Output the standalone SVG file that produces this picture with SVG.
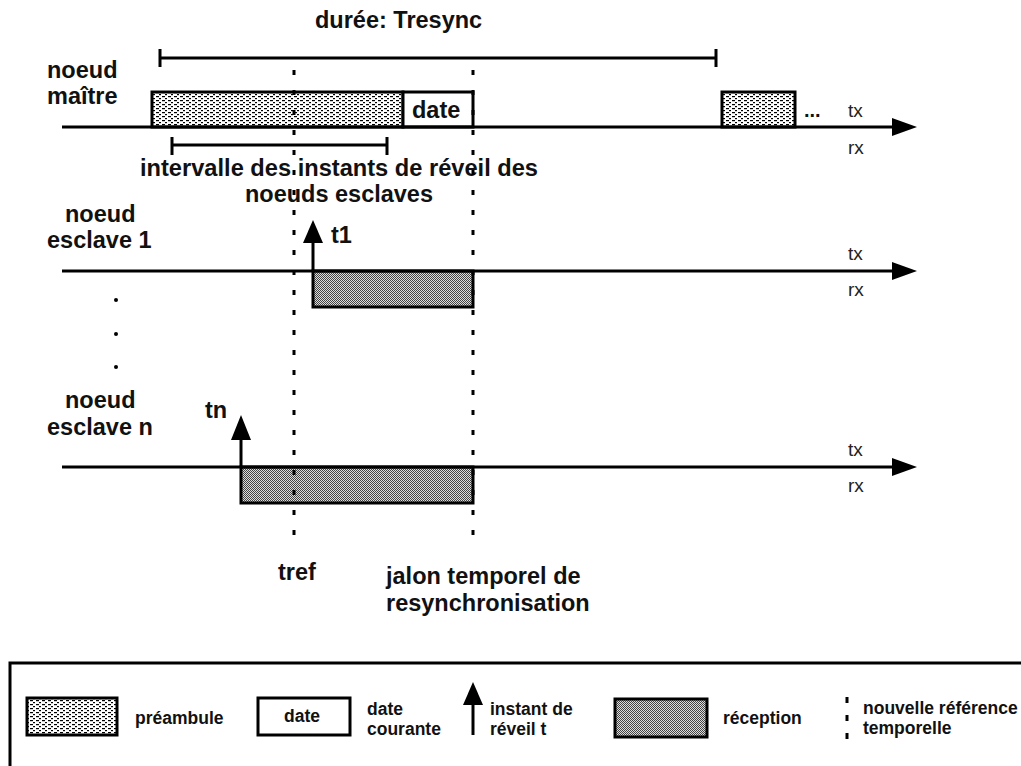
<svg xmlns="http://www.w3.org/2000/svg" width="1021" height="766" viewBox="0 0 1021 766">
<style>
.b{font-family:"Liberation Sans",Arial,sans-serif;font-weight:bold;font-size:23.5px;fill:#111}
.s{font-family:"Liberation Sans",Arial,sans-serif;font-weight:bold;font-size:17.5px;fill:#111}
.r{font-family:"Liberation Sans",Arial,sans-serif;font-size:19px;fill:#222}
.ln{stroke:#000;stroke-width:3;fill:none}
.box{stroke:#000;stroke-width:3}
.dot{stroke:#000;stroke-width:3;stroke-dasharray:5 15;fill:none}
</style>
<defs>
<pattern id="pre" width="6" height="4" patternUnits="userSpaceOnUse">
<rect width="6" height="4" fill="#fff"/>
<rect x="0" y="0" width="3" height="1.2" fill="#000"/>
<rect x="3" y="2" width="2" height="1.2" fill="#000"/>
</pattern>
<pattern id="rec" width="2" height="2" patternUnits="userSpaceOnUse">
<rect width="2" height="2" fill="#ddd"/>
<rect x="0" y="0" width="1" height="1" fill="#444"/>
<rect x="1" y="1" width="1" height="1" fill="#444"/>
</pattern>
</defs>
<rect width="1021" height="766" fill="#fff"/>

<g id="tresync">
<path class="ln" d="M160 58H716M160 49V67M716 49V67"/>
<text class="b" x="315" y="28">durée: Tresync</text>
</g>

<g id="master">
<text class="b" x="47" y="78">noeud</text>
<text class="b" x="47" y="104">maître</text>
<rect class="box" x="152" y="92" width="251" height="35" fill="url(#pre)"/>
<rect class="box" x="403" y="92" width="70" height="35" fill="#fff"/>
<text class="b" x="412" y="118">date</text>
<rect class="box" x="722" y="92" width="73" height="35" fill="url(#pre)"/>
<text class="b" x="804" y="117" style="font-size:20px">...</text>
<path class="ln" d="M62 127H895"/>
<polygon points="892,118 917,127 892,136" fill="#000"/>
<text class="r" x="848" y="117">tx</text>
<text class="r" x="848" y="154">rx</text>
</g>

<g id="interval">
<path class="ln" d="M172 145H387M172 137V155M387 137V155"/>
<text class="b" x="140" y="176" textLength="398" lengthAdjust="spacingAndGlyphs">intervalle des instants de réveil des</text>
<text class="b" x="245" y="202" textLength="188" lengthAdjust="spacingAndGlyphs">noeuds esclaves</text>
</g>

<g id="slave1">
<text class="b" x="65" y="222">noeud</text>
<text class="b" x="47" y="248">esclave 1</text>
<rect class="box" x="313" y="271" width="160" height="36" fill="url(#rec)"/>
<path class="ln" d="M62 271H895"/>
<polygon points="892,262 917,271 892,280" fill="#000"/>
<text class="r" x="848" y="260">tx</text>
<text class="r" x="848" y="296">rx</text>
<path class="ln" d="M313 271V240"/>
<polygon points="303,243 313,220 323,243" fill="#000"/>
<text class="b" x="331" y="243">t1</text>
</g>

<g id="ellipsis">
<circle cx="116" cy="300" r="2" fill="#000"/>
<circle cx="116" cy="334" r="2" fill="#000"/>
<circle cx="116" cy="367" r="2" fill="#000"/>
</g>

<g id="slaven">
<text class="b" x="65" y="408">noeud</text>
<text class="b" x="47" y="435">esclave n</text>
<rect class="box" x="241" y="467" width="232" height="36" fill="url(#rec)"/>
<path class="ln" d="M62 467H895"/>
<polygon points="892,458 917,467 892,476" fill="#000"/>
<text class="r" x="848" y="456">tx</text>
<text class="r" x="848" y="492">rx</text>
<path class="ln" d="M241 467V437"/>
<polygon points="231,440 241,415 251,440" fill="#000"/>
<text class="b" x="205" y="418">tn</text>
</g>

<g id="connectors">
<path class="dot" d="M294 70V538"/>
<path class="dot" d="M473 70V538"/>
</g>

<g id="labels">
<text class="b" x="278" y="580">tref</text>
<text class="b" x="386" y="584">jalon temporel de</text>
<text class="b" x="386" y="611">resynchronisation</text>
</g>

<g id="legend">
<rect x="10" y="663" width="1030" height="130" fill="none" stroke="#000" stroke-width="3"/>
<rect class="box" x="27" y="698" width="90" height="37" fill="url(#pre)"/>
<text class="s" x="135" y="724">préambule</text>
<rect class="box" x="258" y="698" width="92" height="37" fill="#fff"/>
<text class="s" x="284" y="722">date</text>
<text class="s" x="367" y="715">date</text>
<text class="s" x="367" y="735">courante</text>
<path class="ln" d="M473 735V700"/>
<polygon points="463,705 473,682 483,705" fill="#000"/>
<text class="s" x="490" y="715">instant de</text>
<text class="s" x="490" y="735">réveil t</text>
<rect class="box" x="615" y="699" width="92" height="38" fill="url(#rec)"/>
<text class="s" x="723" y="724">réception</text>
<path d="M847 697V703M847 715V721M847 733V739" stroke="#000" stroke-width="3"/>
<text class="s" x="863" y="714">nouvelle référence</text>
<text class="s" x="863" y="734">temporelle</text>
</g>
</svg>
